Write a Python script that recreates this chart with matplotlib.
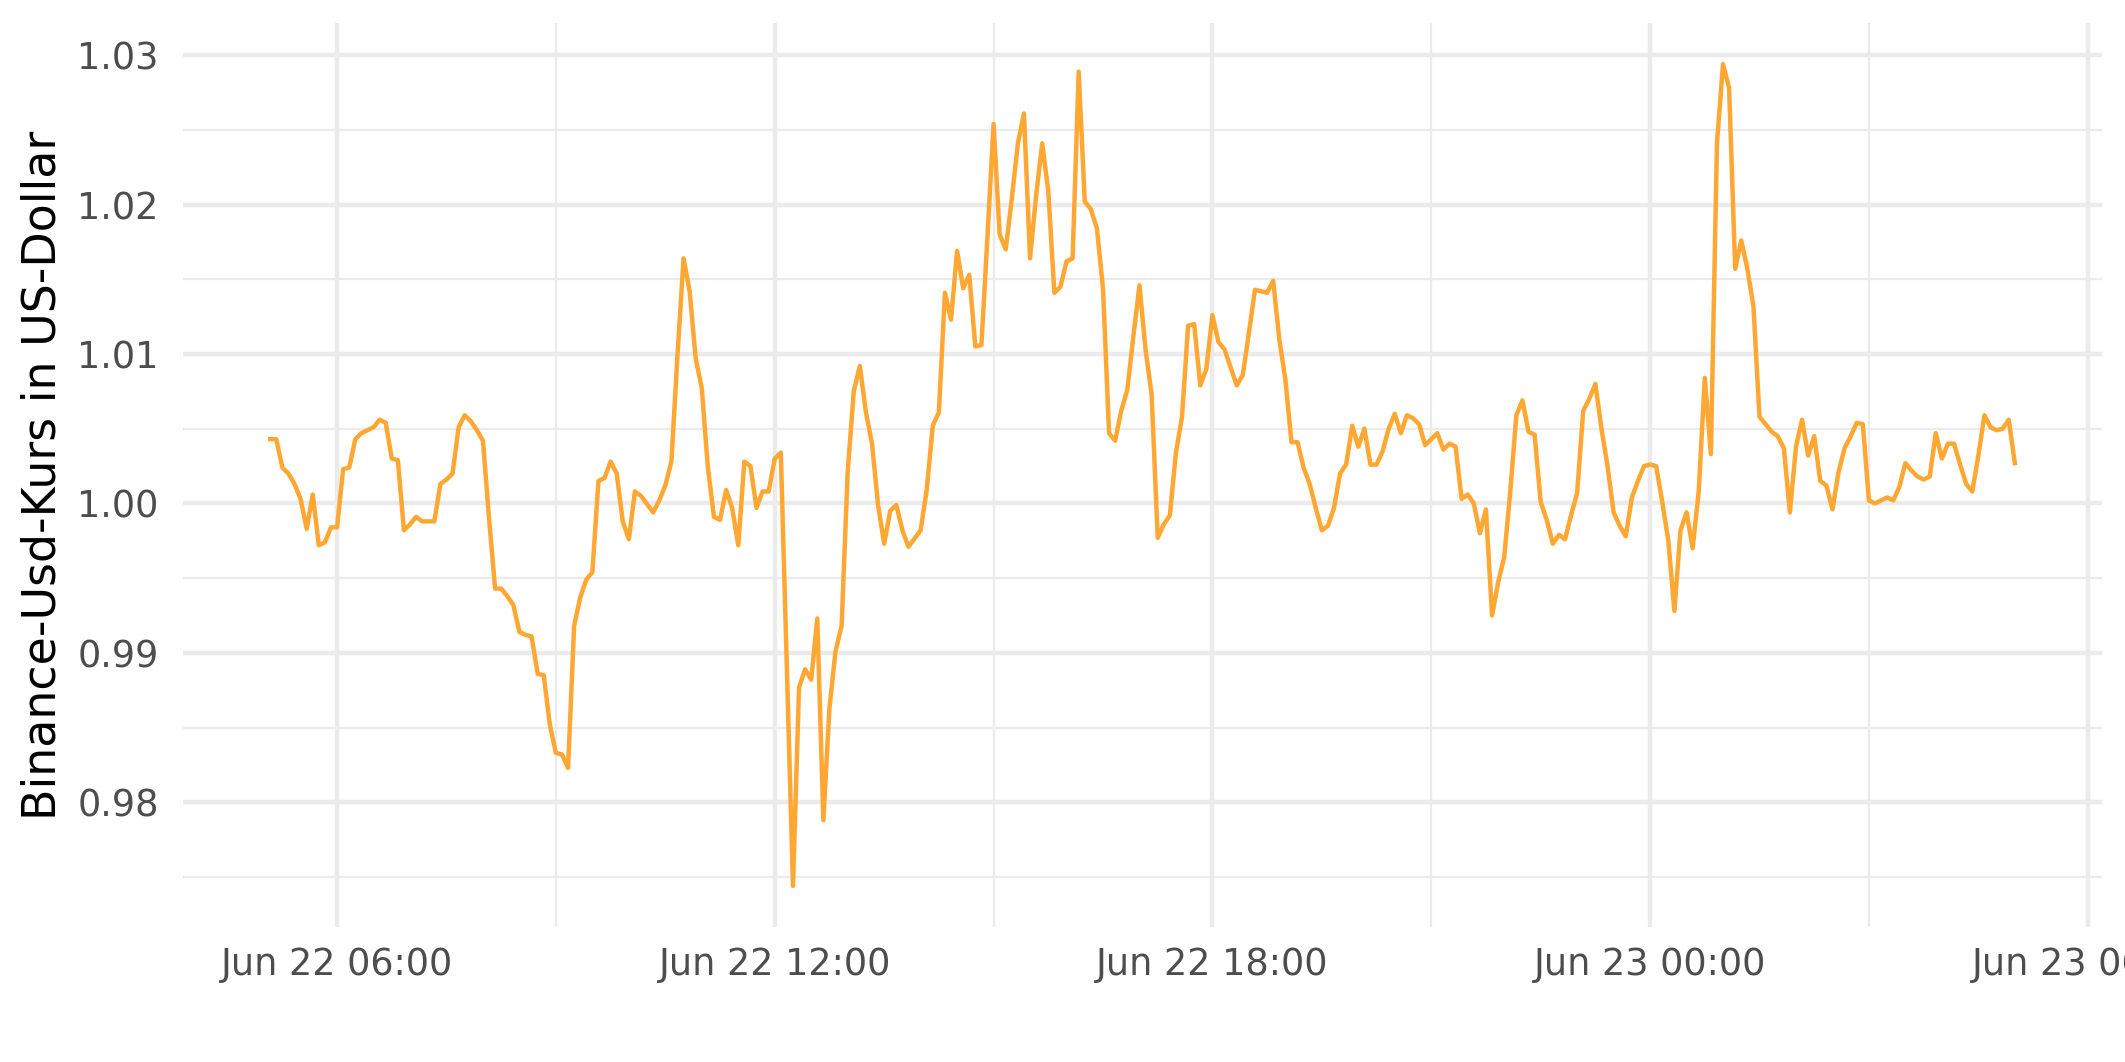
import pandas as pd
import matplotlib.pyplot as plt
import matplotlib.dates as mdates
from matplotlib.ticker import MultipleLocator, FormatStrFormatter

# minutes after Jun 22 05:00, and the BUSD price in US dollars at that time
minutes = [5, 10, 15, 20, 25, 30, 35, 40, 45, 50, 55, 60, 65, 70, 75, 80, 85, 90, 95, 100,
           105, 110, 115, 120, 125, 130, 135, 140, 145, 150, 155, 160, 165, 170, 175, 180,
           185, 190, 195, 200, 205, 210, 215, 220, 225, 230, 235, 240, 245, 250,
           255, 260, 265, 270, 275, 280, 285, 290, 295, 300, 305, 310, 320, 325, 330, 335,
           340, 345, 350, 355, 360, 365, 370, 375, 380, 385, 390, 395, 400, 405, 410, 415,
           420, 425, 435, 440, 445, 450, 455, 460, 465, 470, 475, 480, 485, 490, 495, 500,
           505, 510, 515, 520, 525, 530, 540, 545, 550, 555, 560, 565, 570, 575, 580, 585,
           590, 595, 600, 605, 610, 615, 620, 625, 630, 635, 640, 645, 650, 655, 660, 665,
           670, 675, 680, 685, 690, 695, 700, 705, 710, 715, 720, 725, 730, 735, 740, 745,
           750, 755, 760, 765, 770, 775, 780, 785, 790, 800, 805, 810, 815, 820, 825, 830,
           835, 840, 845, 850, 855, 860, 865, 870, 875, 880, 885, 890, 895, 900, 905, 910,
           915, 920, 925, 930, 935, 940, 945, 950, 955, 960, 965, 970, 975, 980, 985, 990,
           995, 1000, 1005, 1010, 1015, 1020, 1025, 1030, 1035, 1040, 1045, 1050, 1055, 1060,
           1065, 1070, 1075, 1080, 1085, 1090, 1095, 1100, 1105, 1110, 1115, 1120, 1125, 1130,
           1135, 1140, 1145, 1150, 1155, 1160, 1165, 1170, 1175, 1180, 1185, 1190, 1195, 1200,
           1205, 1210, 1215, 1220, 1225, 1230, 1235, 1240, 1245, 1250, 1255, 1260, 1265, 1270,
           1275, 1280, 1285, 1290, 1295, 1300, 1305, 1310, 1315, 1320, 1325, 1330, 1335, 1340,
           1345, 1350, 1355, 1360, 1365, 1370, 1375, 1380, 1385, 1390, 1395, 1400, 1405, 1410,
           1415, 1420, 1425, 1430, 1435, 1440]

kurs = [1.0043, 1.0043, 1.0024, 1.0020, 1.0013, 1.0003, 0.9983, 1.0006, 0.9972, 0.9974,
        0.9984, 0.9984, 1.0023, 1.0024, 1.0043, 1.0047, 1.0049, 1.0051, 1.0056, 1.0054,
        1.0030, 1.0029, 0.9982, 0.9986, 0.9991, 0.9988, 0.9988, 0.9988, 1.0013, 1.0016,
        1.0020, 1.0051, 1.0059, 1.0055, 1.0049, 1.0042, 0.9990, 0.9943, 0.9943, 0.9938,
        0.9932, 0.9914, 0.9912, 0.9911, 0.9886, 0.9885, 0.9852, 0.9833, 0.9832, 0.9823,
        0.9918, 0.9937, 0.9949, 0.9954, 1.0015, 1.0017, 1.0028, 1.0020, 0.9988, 0.9976,
        1.0008, 1.0005, 0.9994, 1.0002, 1.0012, 1.0028, 1.0099, 1.0164, 1.0142, 1.0097,
        1.0077, 1.0024, 0.9991, 0.9989, 1.0009, 0.9997, 0.9972, 1.0028, 1.0025, 0.9997,
        1.0008, 1.0008, 1.0030, 1.0034, 0.9744, 0.9877, 0.9889, 0.9882, 0.9923, 0.9788,
        0.9863, 0.9901, 0.9918, 1.0021, 1.0075, 1.0092, 1.0061, 1.0040, 0.9999, 0.9973,
        0.9995, 0.9999, 0.9982, 0.9971, 0.9982, 1.0009, 1.0052, 1.0061, 1.0141, 1.0123,
        1.0169, 1.0144, 1.0153, 1.0105, 1.0106, 1.0179, 1.0254, 1.0180, 1.0170, 1.0204,
        1.0241, 1.0261, 1.0164, 1.0206, 1.0241, 1.0209, 1.0141, 1.0145, 1.0162, 1.0164,
        1.0289, 1.0202, 1.0197, 1.0184, 1.0144, 1.0047, 1.0042, 1.0062, 1.0076, 1.0112,
        1.0146, 1.0103, 1.0073, 0.9977, 0.9986, 0.9992, 1.0034, 1.0058, 1.0119, 1.0120,
        1.0079, 1.0090, 1.0126, 1.0108, 1.0103, 1.0079, 1.0086, 1.0114, 1.0143, 1.0142,
        1.0141, 1.0149, 1.0110, 1.0083, 1.0041, 1.0041, 1.0024, 1.0013, 0.9997, 0.9982,
        0.9985, 0.9997, 1.0020, 1.0026, 1.0052, 1.0038, 1.0050, 1.0026, 1.0026, 1.0035,
        1.0050, 1.0060, 1.0047, 1.0059, 1.0057, 1.0053, 1.0039, 1.0043, 1.0047, 1.0036,
        1.0040, 1.0038, 1.0003, 1.0006, 1.0000, 0.9980, 0.9996, 0.9925, 0.9947, 0.9964,
        1.0008, 1.0059, 1.0069, 1.0048, 1.0046, 1.0001, 0.9989, 0.9973, 0.9979, 0.9976,
        0.9992, 1.0007, 1.0062, 1.0070, 1.0080, 1.0050, 1.0025, 0.9994, 0.9985, 0.9978,
        1.0004, 1.0015, 1.0025, 1.0026, 1.0025, 1.0001, 0.9975, 0.9928, 0.9982, 0.9994,
        0.9970, 1.0008, 1.0084, 1.0033, 1.0241, 1.0294, 1.0278, 1.0157, 1.0176, 1.0157,
        1.0132, 1.0058, 1.0053, 1.0048, 1.0045, 1.0037, 0.9994, 1.0038, 1.0056, 1.0032,
        1.0045, 1.0015, 1.0012, 0.9996, 1.0021, 1.0037, 1.0045, 1.0054, 1.0053, 1.0002,
        1.0000, 1.0002, 1.0004, 1.0002, 1.0011, 1.0027, 1.0022, 1.0018, 1.0016, 1.0018,
        1.0047, 1.0030, 1.0040, 1.0040, 1.0026, 1.0013, 1.0008, 1.0032, 1.0059, 1.0051,
        1.0049, 1.0050, 1.0056, 1.0027]

zeit = pd.Timestamp("2022-06-22 05:00") + pd.to_timedelta(minutes, unit="min")

fig = plt.figure(figsize=(2125 / 300, 1062 / 300), dpi=300)
ax = fig.add_axes([0.0861, 0.1271, 0.9031, 0.8512])

ax.plot(zeit, kurs, color="#FFA733", linewidth=1.07, solid_joinstyle="round", zorder=3)
ax.margins(x=0.05, y=0.05)

# x axis: major every 6 h, minor every 3 h
ax.xaxis.set_major_locator(mdates.HourLocator(byhour=[0, 6, 12, 18]))
ax.xaxis.set_minor_locator(mdates.HourLocator(byhour=[3, 9, 15, 21]))
ax.xaxis.set_major_formatter(mdates.DateFormatter("%b %d %H:%M"))
ax.yaxis.set_major_locator(MultipleLocator(0.01))
ax.yaxis.set_minor_locator(MultipleLocator(0.005))
ax.yaxis.set_major_formatter(FormatStrFormatter("%.2f"))

ax.grid(which="major", color="#EBEBEB", linewidth=1.07)
ax.grid(which="minor", color="#EBEBEB", linewidth=0.53)
ax.set_axisbelow(True)
for s in ax.spines.values():
    s.set_visible(False)
ax.tick_params(which="both", length=0)
ax.tick_params(axis="y", labelsize=8.8, labelcolor="#4D4D4D", pad=5.8)
ax.tick_params(axis="x", labelsize=8.8, labelcolor="#4D4D4D", pad=4.6)

ax.set_ylabel("Binance-Usd-Kurs in US-Dollar", fontsize=11, color="black")
ax.yaxis.set_label_coords(-0.061, 0.5)

fig.savefig("out.png", dpi=300)
